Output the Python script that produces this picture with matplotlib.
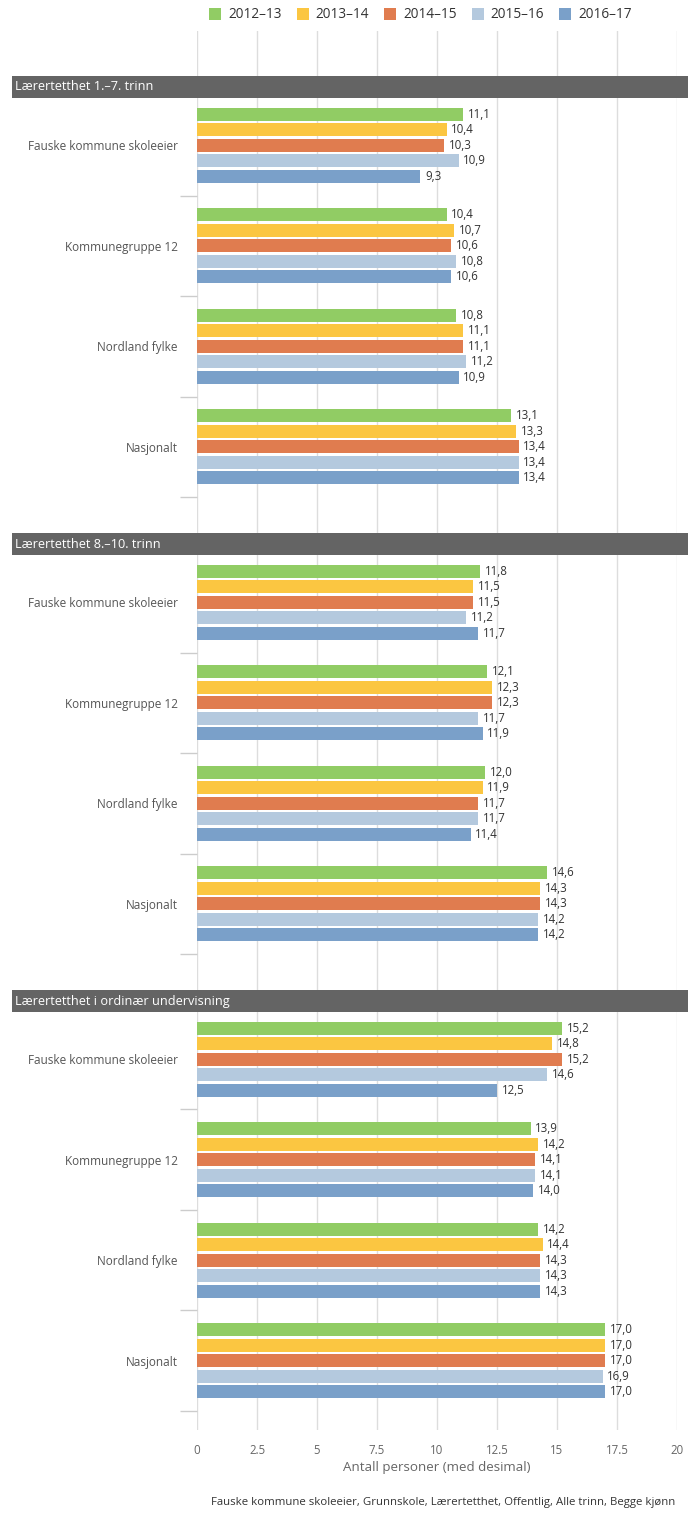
import matplotlib
matplotlib.use("Agg")
import matplotlib.pyplot as plt
from matplotlib.patches import Rectangle
import matplotlib.transforms as mtransforms
import numpy as np

plt.rcParams['font.family'] = ['Open Sans', 'DejaVu Sans']

series = ['2012–13', '2013–14', '2014–15', '2015–16', '2016–17']
colors = ['#91cc64', '#fbc641', '#e07c4f', '#b4c9de', '#7aa0c9']
sections = ['Lærertetthet 1.–7. trinn', 'Lærertetthet 8.–10. trinn',
            'Lærertetthet i ordinær undervisning']
categories = ['Fauske kommune skoleeier', 'Kommunegruppe 12', 'Nordland fylke', 'Nasjonalt']

sec1 = [[11.1, 10.4, 10.3, 10.9, 9.3],
        [10.4, 10.7, 10.6, 10.8, 10.6],
        [10.8, 11.1, 11.1, 11.2, 10.9],
        [13.1, 13.3, 13.4, 13.4, 13.4]]
sec2 = [[11.8, 11.5, 11.5, 11.2, 11.7],
        [12.1, 12.3, 12.3, 11.7, 11.9],
        [12.0, 11.9, 11.7, 11.7, 11.4],
        [14.6, 14.3, 14.3, 14.2, 14.2]]
sec3 = [[15.2, 14.8, 15.2, 14.6, 12.5],
        [13.9, 14.2, 14.1, 14.1, 14.0],
        [14.2, 14.4, 14.3, 14.3, 14.3],
        [17.0, 17.0, 17.0, 16.9, 17.0]]
data = [sec1, sec2, sec3]

xticks = [0, 2.5, 5, 7.5, 10, 12.5, 15, 17.5, 20]
xticklabels = ['0', '2.5', '5', '7.5', '10', '12.5', '15', '17.5', '20']

W, H = 700, 1534
fig = plt.figure(figsize=(W / 100, H / 100), dpi=100)
ax_top, ax_bot = 31, 1430
ax = fig.add_axes([197 / W, 1 - ax_bot / H, 480 / W, (ax_bot - ax_top) / H])

unit = 100.5
start0 = (95 - ax_top) / unit
period = 457 / unit
bar_step = 15.5 / unit
bar_h = 13 / unit

centers, labels, bounds = [], [], []
for s, sec in enumerate(data):
    st = start0 + s * period
    for c, vals in enumerate(sec):
        cy = st + c + 0.5
        centers.append(cy)
        labels.append(categories[c])
        bounds.extend([st + c, st + c + 1])
        for k, v in enumerate(vals):
            y = cy + (k - 2) * bar_step
            ax.barh(y, v, height=bar_h, color=colors[k], zorder=3)
            ax.text(v + 0.2, y, f'{v:.1f}'.replace('.', ','), va='center', ha='left',
                    fontsize=8.3, color='#333333', zorder=4)

ax.set_xlim(0, 20)
ax.set_ylim((ax_bot - ax_top) / unit, 0)
ax.set_xticks(xticks)
ax.set_xticklabels(xticklabels, fontsize=8.3, color='#666666')
ax.tick_params(axis='x', length=0, pad=10)
ax.grid(axis='x', color='#dddddd', lw=1, zorder=0)
for sp in ax.spines.values():
    sp.set_visible(False)
ax.set_yticks(centers)
ax.set_yticklabels(labels, fontsize=8.5, color='#555555')
ax.tick_params(axis='y', length=0, pad=14)
ax.set_yticks(sorted(set(np.round(bounds, 6))), minor=True)
ax.tick_params(axis='y', which='minor', length=12, color='#cccccc', width=1)
ax.set_xlabel('Antall personer (med desimal)', fontsize=9.6, color='#666666', labelpad=3)

# section headers
trans = mtransforms.blended_transform_factory(fig.transFigure, ax.transData)
for s, name in enumerate(sections):
    st = start0 + s * period
    top = st - 19 / unit
    hgt = 22 / unit
    rect = Rectangle((12 / W, top + hgt), (688 - 12) / W, -hgt, transform=trans,
                     facecolor='#646464', edgecolor='none', zorder=5)
    fig.add_artist(rect)
    t = fig.text(15 / W, 0, name, transform=trans, fontsize=9.2, color='white',
                 va='center', ha='left', zorder=6)
    t.set_y(top + hgt / 2)

# legend
for i, (name, col) in enumerate(zip(series, colors)):
    x0 = 209 + 87.5 * i
    fig.add_artist(Rectangle((x0 / W, 1 - 20 / H), 12 / W, 12 / H,
                             transform=fig.transFigure, facecolor=col, edgecolor='none'))
    fig.text((x0 + 19) / W, 1 - 14.5 / H, name, fontsize=9.8, color='#333333',
             ha='left', va='center')

fig.text(675 / W, 1 - 1503 / H,
         'Fauske kommune skoleeier, Grunnskole, Lærertetthet, Offentlig, Alle trinn, Begge kjønn',
         ha='right', va='center', fontsize=8.2, color='#333333')

fig.savefig('out.png', dpi=100, facecolor='white')
